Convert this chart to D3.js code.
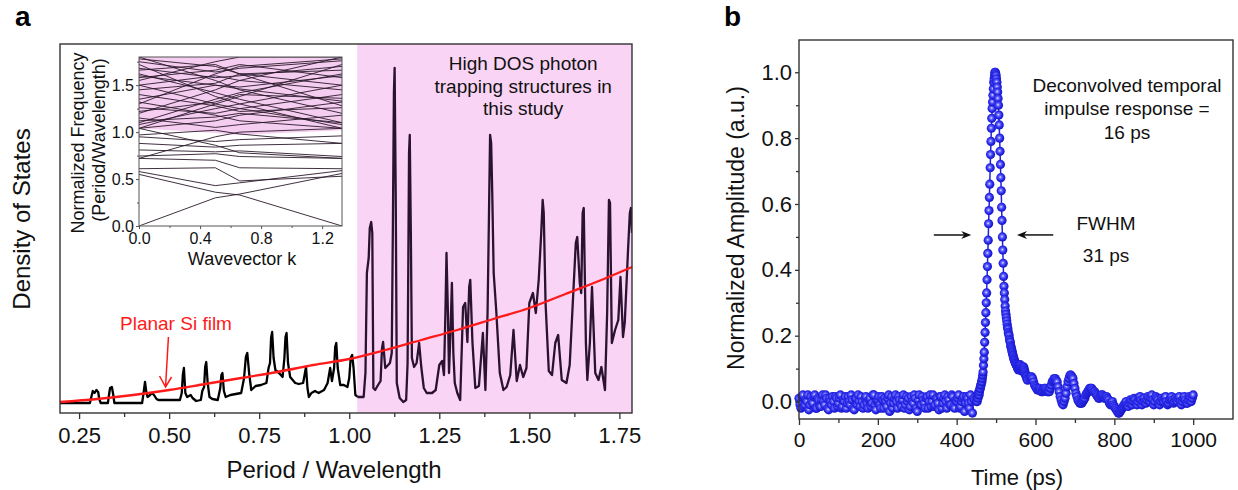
<!DOCTYPE html>
<html><head><meta charset="utf-8">
<script src="https://cdn.jsdelivr.net/npm/d3@7"></script>
<style>body{margin:0;background:#fff} svg text{font-family:"Liberation Sans",Arial,Helvetica,sans-serif}</style>
</head><body><svg id="c" width="1238" height="490"></svg>
<script>
// ---------- Panel a data ----------
const xTicksA = [0.25, 0.50, 0.75, 1.00, 1.25, 1.50, 1.75];
const xMinorA = [0.375, 0.625, 0.875, 1.125, 1.375, 1.625];
const highDosStart = 1.022;
const dosPoints = [
[0.197,1.0],[0.28,1.0],[0.284,1.6],[0.288,2.2],[0.293,2.0],[0.298,2.3],[0.303,2.1],[0.306,1.4],[0.31,1.0],
[0.33,1.0],[0.333,1.8],[0.336,2.5],[0.341,2.6],[0.345,1.8],[0.348,1.0],
[0.425,1.0],[0.429,2.0],[0.433,3.1],[0.437,2.0],[0.44,1.6],[0.447,1.8],[0.452,2.0],[0.458,1.8],[0.465,1.4],[0.47,1.3],[0.53,1.3],
[0.535,2.0],[0.538,3.8],[0.541,4.5],[0.545,2.0],[0.55,1.6],[0.56,1.8],[0.565,1.5],[0.575,1.2],[0.588,1.3],[0.592,2.2],[0.597,2.6],[0.600,4.6],[0.603,5.1],[0.607,3.0],[0.612,1.6],[0.62,1.4],[0.635,1.3],
[0.642,2.5],[0.645,3.8],[0.648,4.0],[0.652,2.2],[0.657,1.6],[0.67,1.8],[0.685,1.9],[0.70,2.0],[0.708,3.5],[0.713,5.6],[0.717,6.0],[0.722,4.0],[0.728,2.3],[0.74,2.7],[0.755,2.8],[0.77,3.0],
[0.776,4.5],[0.78,5.0],[0.783,7.5],[0.786,8.1],[0.79,5.5],[0.795,4.3],[0.805,4.0],[0.815,3.6],[0.82,5.5],[0.823,7.6],[0.826,8.0],[0.83,5.0],[0.836,3.6],[0.85,3.0],[0.86,2.9],[0.872,3.0],[0.877,4.0],[0.88,4.6],[0.884,2.5],[0.888,1.6],[0.895,2.0],[0.905,2.2],[0.915,2.0],[0.93,2.3],[0.94,3.0],[0.947,4.5],[0.952,3.2],[0.958,4.5],[0.961,6.6],[0.964,7.0],[0.968,4.5],[0.975,2.8],[0.985,2.8],[0.995,2.6],[1.0,3.5],[1.004,5.5],[1.008,5.8],[1.012,4.5],[1.017,1.8],[1.025,1.6],[1.04,1.6],
[1.045,4.0],[1.049,14.0],[1.054,15.5],[1.057,18.5],[1.061,19.1],[1.064,18.0],[1.067,2.5],[1.072,2.3],[1.08,2.8],[1.087,3.2],[1.091,6.5],[1.094,7.1],[1.1,4.5],[1.108,4.8],[1.113,5.0],[1.118,6.0],[1.121,18],[1.124,32],[1.126,34.5],[1.129,22],[1.132,3.0],[1.14,1.5],[1.15,1.1],[1.158,1.3],[1.162,5.0],[1.164,15],[1.166,26],[1.168,27.8],[1.171,18],[1.174,5.5],[1.18,4.6],[1.187,5.0],[1.194,7.0],[1.2,4.6],[1.207,2.5],[1.215,2.0],[1.23,2.0],[1.24,2.3],[1.25,4.8],[1.258,5.2],[1.263,3.8],[1.267,10],[1.27,16.0],[1.274,10],[1.277,4.0],[1.281,8],[1.285,13.0],[1.289,6],[1.293,3.0],[1.3,2.0],[1.308,1.3],[1.316,10.6],[1.322,11.0],[1.328,7.1],[1.333,12.6],[1.336,13.3],[1.342,7.1],[1.35,2.5],[1.36,2.7],[1.371,8.0],[1.378,2.3],[1.384,10],[1.388,20],[1.391,27.8],[1.394,27],[1.397,22],[1.401,14.0],[1.408,10.3],[1.418,4.0],[1.428,2.3],[1.437,2.6],[1.447,3.8],[1.456,8.3],[1.465,3.2],[1.474,4.8],[1.483,3.6],[1.492,4.5],[1.5,11.0],[1.51,12.0],[1.518,10.0],[1.526,13.3],[1.533,18],[1.537,21.3],[1.540,20],[1.545,11.0],[1.554,4.2],[1.563,3.8],[1.572,7.0],[1.58,7.8],[1.59,3.3],[1.603,3.0],[1.612,4.8],[1.622,12.0],[1.629,17.0],[1.633,17.6],[1.64,13.0],[1.644,12.0],[1.648,20.0],[1.651,20.5],[1.657,7.0],[1.661,3.3],[1.668,7.0],[1.674,12.6],[1.683,4.0],[1.692,3.3],[1.7,4.6],[1.71,2.3],[1.716,10],[1.721,21.3],[1.724,21.0],[1.729,7.0],[1.738,8.3],[1.747,9.3],[1.753,13.6],[1.76,7.6],[1.765,9.1],[1.774,16.3],[1.779,20.0],[1.782,20.5],[1.785,18]
];
const planarX = [0.197,0.3,0.4,0.5,0.6,0.7,0.8,0.9,1.0,1.1,1.2,1.3,1.4,1.5,1.6,1.7,1.785];
const planarY = [1.1,1.4,1.8,2.3,2.9,3.5,4.1,4.8,5.4,6.3,7.3,8.3,9.4,10.5,11.9,13.3,14.6];

// ---------- Inset (band diagram) data ----------
const insetXTicks = [0.0, 0.4, 0.8, 1.2];
const insetXMinor = [0.2, 0.6, 1.0];
const insetYTicks = [0.0, 0.5, 1.0, 1.5];
const insetYMinor = [0.25, 0.75, 1.25, 1.75];
const bandK = [0, 0.5, 0.66, 1.33];
const bands = [
[0.00,0.30,0.34,0.56],[0.55,0.36,0.33,0.00],[0.58,0.43,0.46,0.59],[0.61,0.62,0.48,0.53],
[0.72,0.70,0.62,0.61],[0.745,0.77,0.74,0.72],[0.81,0.79,0.80,0.74],[0.72,0.95,1.0,1.04],
[1.04,0.86,0.78,0.72],[0.88,0.84,0.86,0.88],[0.95,0.90,0.92,0.96],[0.97,1.02,0.98,0.88],
[1.04,1.30,1.38,1.72],[1.72,1.38,1.30,1.04],[1.04,1.12,1.18,1.32],[1.32,1.18,1.12,1.04],
[1.10,1.35,1.42,1.62],[1.62,1.42,1.35,1.10],[1.20,1.45,1.55,1.80],[1.80,1.55,1.45,1.20],
[1.26,1.20,1.25,1.40],[1.40,1.28,1.22,1.26],[1.50,1.60,1.55,1.45],[1.60,1.50,1.48,1.60],
[1.58,1.66,1.72,1.58],[1.66,1.72,1.62,1.66],[1.75,1.64,1.68,1.76],[1.45,1.52,1.62,1.50],
[1.35,1.50,1.46,1.33],[1.15,1.05,1.08,1.18],[1.30,1.62,1.70,1.78],[1.78,1.70,1.62,1.28],
[1.08,1.25,1.30,1.50],[1.50,1.30,1.25,1.08],[1.55,1.75,1.80,1.80],[1.68,1.58,1.60,1.70],
[1.22,1.32,1.40,1.36],[1.12,1.16,1.20,1.10]
];
const insetPinkK = [0, 0.5, 0.66, 1.33];
const insetPinkLow = [1.04, 0.99, 0.97, 1.02];

// ---------- Panel b data ----------
const xTicksB = [0, 200, 400, 600, 800, 1000];
const xMinorB = [100, 300, 500, 700, 900];
const yTicksB = [0.0, 0.2, 0.4, 0.6, 0.8, 1.0];
const yMinorB = [0.1, 0.3, 0.5, 0.7, 0.9];
const baseStart = 0, baseStep = 5;
const baseAmp = [
0.01,-0.02,0.02,-0.01,0.0,-0.025,0.015,-0.005,0.02,-0.02,
0.005,-0.015,0.02,-0.01,0.01,-0.025,0.0,0.015,-0.02,0.01,
-0.005,0.02,-0.015,0.0,-0.02,0.015,-0.01,0.005,-0.025,0.01,
0.02,-0.015,0.0,-0.01,0.015,-0.02,0.01,-0.005,0.02,-0.025,
0.005,-0.01,0.015,-0.02,0.0,0.01,-0.03,0.015,-0.005,0.02,
-0.02,0.005,-0.015,0.02,-0.01,0.0,-0.025,0.015,-0.005,0.01,
-0.03,0.02,-0.01,0.005,-0.02,0.015,0.0,-0.015,0.02,-0.01,
0.01,-0.025,0.015,-0.005,0.02,-0.02,0.005,-0.01,0.015,-0.02,
0.0,0.02,-0.015,0.01,-0.03,0.015,-0.005,0.02,-0.035,0.005];
const base2Start = 2.5, base2Step = 5;
const base2Amp = [
-0.01,0.015,-0.015,0.005,0.02,-0.01,0.0,0.015,-0.02,0.01,
-0.015,0.005,0.0,0.02,-0.02,0.01,-0.01,0.0,0.015,-0.015,
0.01,-0.02,0.005,0.015,-0.005,0.0,0.02,-0.02,0.01,-0.01,
0.0,0.015,-0.02,0.01,-0.005,0.005,-0.015,0.02,-0.01,0.0,
0.015,-0.02,0.005,0.01,-0.015,0.02,-0.005,-0.02,0.01,0.0,
0.015,-0.01,0.005,-0.02,0.015,0.01,-0.015,0.0,0.02,-0.02,
0.005,-0.01,0.015,-0.005,0.01,-0.02,0.02,0.0,-0.015,0.01,
-0.005,0.015,-0.02,0.01,0.0,0.015,-0.01,0.02,-0.015,0.005,
0.01,-0.02,0.0,0.015,-0.005,0.01,-0.02,0.0,0.01];
const peakStart = 450, peakStep = 1;
const peakAmp = [
0.00,0.01,0.00,0.02,0.01,0.02,0.03,0.02,0.03,0.04,
0.04,0.05,0.05,0.06,0.06,0.07,0.08,0.09,0.11,0.13,
0.15,0.18,0.21,0.24,0.27,0.30,0.33,0.37,0.41,0.45,
0.49,0.54,0.58,0.62,0.66,0.71,0.75,0.79,0.83,0.86,
0.89,0.91,0.93,0.95,0.97,0.98,0.99,1.00,1.00,0.995,
0.99,0.98,0.97,0.955,0.94,0.92,0.90,0.87,0.84,0.80,
0.76,0.72,0.68,0.64,0.59,0.55,0.50,0.46,0.42,0.38,
0.35,0.33,0.31,0.29,0.275,0.265,0.255,0.245,0.235,0.225,
0.22,0.21,0.205,0.2,0.19,0.185,0.18,0.17,0.165,0.16,
0.155,0.15,0.145,0.14,0.135,0.13,0.127,0.124,0.12,0.117,
0.115,0.112,0.11,0.107,0.105,0.1,0.098,0.096,0.1,0.105,
0.11,0.112,0.11,0.105,0.1,0.095,0.092,0.095,0.1,0.104,
0.105,0.1,0.095,0.09,0.085,0.08,0.078,0.075,0.07,0.068,0.065];
const tailStart = 585, tailStep = 5;
const tailAmp = [
0.07,0.075,0.06,0.045,0.035,0.04,0.03,0.035,0.04,0.03,
0.03,0.05,0.065,0.07,0.06,0.03,0.005,-0.01,0.01,0.045,
0.07,0.08,0.07,0.04,0.015,0.0,-0.005,0.0,0.01,0.025,
0.035,0.04,0.035,0.03,0.02,0.01,0.015,0.02,0.01,0.015,
0.005,-0.01,0.0,-0.015,-0.025,-0.035,-0.03,-0.02,-0.01,0.0,
-0.015,0.005,-0.01,0.01,-0.005,0.0,0.015,-0.01,0.01,-0.005,
0.015,0.0,0.02,-0.01,0.015,0.005,-0.01,0.01,0.0,0.015,
-0.01,0.005,0.015,-0.005,0.01,0.0,0.015,-0.01,0.01,0.005,
-0.005,0.015,0.0,0.02];
const tail2Start = 587.5, tail2Step = 5;
const tail2Amp = [
0.075,0.07,0.05,0.04,0.035,0.035,0.03,0.04,0.035,0.03,
0.04,0.06,0.07,0.065,0.045,0.015,-0.005,0.0,0.025,0.06,
0.08,0.075,0.055,0.025,0.005,-0.005,-0.005,0.005,0.02,0.03,
0.04,0.04,0.03,0.025,0.015,0.01,0.02,0.015,0.01,0.01,
-0.005,-0.005,-0.01,-0.02,-0.03,-0.035,-0.025,-0.015,-0.005,-0.01,
-0.005,0.0,0.0,0.005,-0.01,0.01,0.005,0.0,0.0,0.005,
0.01,0.01,0.005,0.0,0.01,-0.005,0.0,0.005,0.01,0.0,
-0.005,0.01,0.005,0.0,0.005,0.01,0.0,0.0,0.015,-0.005,
0.005,0.01,0.01];

// ---------- Drawing ----------
const svg = d3.select("#c");
const FONT = '"Liberation Sans",Arial,sans-serif';
const defs = svg.append("defs");

// ===== Panel a =====
const A = {l:60, r:632, t:44, b:413};
const xA = d3.scaleLinear().domain([0.197, 1.785]).range([A.l, A.r]);
const yA = d3.scaleLinear().domain([0, 36.9]).range([A.b, A.t]);

svg.append("rect").attr("x", xA(highDosStart)).attr("y", A.t)
  .attr("width", A.r - xA(highDosStart)).attr("height", A.b - A.t).attr("fill", "#f9d4f5");

defs.append("clipPath").attr("id","clipAL").append("rect")
  .attr("x", A.l).attr("y", A.t).attr("width", xA(highDosStart)-A.l).attr("height", A.b-A.t);
defs.append("clipPath").attr("id","clipAR").append("rect")
  .attr("x", xA(highDosStart)).attr("y", A.t).attr("width", A.r-xA(highDosStart)).attr("height", A.b-A.t);

const dosLine = d3.line().x(d => xA(d[0])).y(d => yA(d[1]));
svg.append("path").attr("d", dosLine(dosPoints)).attr("clip-path","url(#clipAL)")
  .attr("fill","none").attr("stroke","#000").attr("stroke-width",2.3).attr("stroke-linejoin","round");
svg.append("path").attr("d", dosLine(dosPoints)).attr("clip-path","url(#clipAR)")
  .attr("fill","none").attr("stroke","#2a1230").attr("stroke-width",2.3).attr("stroke-linejoin","round");

const planarLine = d3.line().x((d,i) => xA(planarX[i])).y((d,i) => yA(planarY[i])).curve(d3.curveMonotoneX);
svg.append("path").attr("d", planarLine(planarX)).attr("fill","none")
  .attr("stroke","#ff1a1a").attr("stroke-width",2.3);

// frame
svg.append("rect").attr("x",A.l).attr("y",A.t).attr("width",A.r-A.l).attr("height",A.b-A.t)
  .attr("fill","none").attr("stroke","#333").attr("stroke-width",1.4);

// x axis a
const axA = svg.append("g").attr("transform",`translate(0,${A.b})`)
  .call(d3.axisBottom(xA).tickValues(xTicksA).tickFormat(d3.format(".2f")).tickSize(6).tickPadding(8));
axA.select(".domain").remove();
axA.selectAll("text").attr("font-size",22).attr("font-family",FONT).attr("fill","#111");
axA.selectAll("line").attr("stroke","#333").attr("stroke-width",1.3);
const axAm = svg.append("g").attr("transform",`translate(0,${A.b})`)
  .call(d3.axisBottom(xA).tickValues(xMinorA).tickFormat("").tickSize(4));
axAm.select(".domain").remove();
axAm.selectAll("line").attr("stroke","#333").attr("stroke-width",1.3);

svg.append("text").attr("x",334).attr("y",478).attr("text-anchor","middle")
  .attr("font-size",24).attr("fill","#111").text("Period / Wavelength");
svg.append("text").attr("transform","translate(30,219) rotate(-90)").attr("text-anchor","middle")
  .attr("font-size",24).attr("fill","#111").text("Density of States");
svg.append("text").attr("x",15).attr("y",26).attr("font-size",28).attr("font-weight","bold").text("a");

// annotations a
const ann = svg.append("g").attr("font-size",19).attr("text-anchor","middle").attr("fill","#111");
[["High DOS photon",70],["trapping structures in",93],["this study",115]].forEach(([s,y]) =>
  ann.append("text").attr("x",xA(1.483)).attr("y",y).text(s));
svg.append("text").attr("x",xA(0.519)).attr("y",yA(9.0)+7).attr("text-anchor","middle")
  .attr("font-size",19).attr("fill","#ff1a1a").text("Planar Si film");
const tipX = xA(0.49), tipY = yA(2.6), tailX = xA(0.498), tailY = yA(7.6);
svg.append("path").attr("d",`M${tailX},${tailY}L${tipX},${tipY}M${tipX-6},${tipY-11}L${tipX},${tipY}L${tipX+6},${tipY-10}`)
  .attr("fill","none").attr("stroke","#ff1a1a").attr("stroke-width",1.5);

// ===== Inset =====
const I = {l:139, r:342, t:57, b:226};
const xI = d3.scaleLinear().domain([0, 1.33]).range([I.l, I.r]);
const yI = d3.scaleLinear().domain([0, 1.8]).range([I.b, I.t]);
svg.append("rect").attr("x",I.l).attr("y",I.t).attr("width",I.r-I.l).attr("height",I.b-I.t).attr("fill","#fff");
defs.append("clipPath").attr("id","clipI").append("rect")
  .attr("x",I.l).attr("y",I.t).attr("width",I.r-I.l).attr("height",I.b-I.t);
const pinkArea = d3.area().x((d,i)=>xI(insetPinkK[i])).y0((d,i)=>yI(insetPinkLow[i])).y1(yI(1.8));
svg.append("path").attr("d",pinkArea(insetPinkK)).attr("fill","#f5cdf0");
const bandLine = d3.line().x((d,i)=>xI(bandK[i])).y(d=>yI(d));
svg.append("g").attr("clip-path","url(#clipI)").selectAll("path").data(bands).join("path")
  .attr("d", d => bandLine(d)).attr("fill","none").attr("stroke","#2a1a2a").attr("stroke-width",0.9);
svg.append("rect").attr("x",I.l).attr("y",I.t).attr("width",I.r-I.l).attr("height",I.b-I.t)
  .attr("fill","none").attr("stroke","#555").attr("stroke-width",1);
const axIx = svg.append("g").attr("transform",`translate(0,${I.b})`)
  .call(d3.axisBottom(xI).tickValues(insetXTicks).tickFormat(d3.format(".1f")).tickSize(3).tickPadding(4));
const axIxm = svg.append("g").attr("transform",`translate(0,${I.b})`)
  .call(d3.axisBottom(xI).tickValues(insetXMinor).tickFormat("").tickSize(2));
const axIy = svg.append("g").attr("transform",`translate(${I.l},0)`)
  .call(d3.axisLeft(yI).tickValues(insetYTicks).tickFormat(d3.format(".1f")).tickSize(3).tickPadding(2));
const axIym = svg.append("g").attr("transform",`translate(${I.l},0)`)
  .call(d3.axisLeft(yI).tickValues(insetYMinor).tickFormat("").tickSize(2));
[axIx,axIxm,axIy,axIym].forEach(g=>{g.select(".domain").remove();
  g.selectAll("line").attr("stroke","#555");
  g.selectAll("text").attr("font-size",16).attr("font-family",FONT).attr("fill","#111");});
svg.append("text").attr("x",242).attr("y",265).attr("text-anchor","middle").attr("font-size",18)
  .attr("fill","#111").text("Wavevector k");
svg.append("text").attr("transform","translate(84,143) rotate(-90)").attr("text-anchor","middle")
  .attr("font-size",18).attr("fill","#111").text("Normalized Frequency");
svg.append("text").attr("transform","translate(105,140) rotate(-90)").attr("text-anchor","middle")
  .attr("font-size",18).attr("fill","#111").text("(Period/Wavelength)");

// ===== Panel b =====
const B = {l:799, r:1233, t:40, b:419};
const xB = d3.scaleLinear().domain([0, 1101]).range([B.l, B.r]);
const yB = d3.scaleLinear().domain([-0.053, 1.098]).range([B.b, B.t]);
const pulse = [];
baseAmp.forEach((v,i)=>pulse.push([baseStart+i*baseStep, v]));
base2Amp.forEach((v,i)=>pulse.push([base2Start+i*base2Step, v]));
peakAmp.forEach((v,i)=>pulse.push([peakStart+i*peakStep, v]));
tailAmp.forEach((v,i)=>pulse.push([tailStart+i*tailStep, v]));
tail2Amp.forEach((v,i)=>pulse.push([tail2Start+i*tail2Step, v]));
pulse.sort((a,b)=>a[0]-b[0]);

const grad = defs.append("radialGradient").attr("id","ball").attr("cx","45%").attr("cy","45%").attr("r","55%");
grad.append("stop").attr("offset","0%").attr("stop-color","#e8e8ff");
grad.append("stop").attr("offset","28%").attr("stop-color","#6a6aff");
grad.append("stop").attr("offset","65%").attr("stop-color","#2828ea");
grad.append("stop").attr("offset","100%").attr("stop-color","#1515c0");

svg.append("path").attr("d", d3.line().x(d=>xB(d[0])).y(d=>yB(d[1]))(pulse))
  .attr("fill","none").attr("stroke","#2020e0").attr("stroke-width",1.5);
svg.append("g").selectAll("circle").data(pulse).join("circle")
  .attr("cx",d=>xB(d[0])).attr("cy",d=>yB(d[1])).attr("r",4.6).attr("fill","url(#ball)");

svg.append("rect").attr("x",B.l).attr("y",B.t).attr("width",B.r-B.l).attr("height",B.b-B.t)
  .attr("fill","none").attr("stroke","#333").attr("stroke-width",1.4);
const axBx = svg.append("g").attr("transform",`translate(0,${B.b})`)
  .call(d3.axisBottom(xB).tickValues(xTicksB).tickFormat(d3.format("d")).tickSize(6).tickPadding(7));
const axBxm = svg.append("g").attr("transform",`translate(0,${B.b})`)
  .call(d3.axisBottom(xB).tickValues(xMinorB).tickFormat("").tickSize(4));
const axBy = svg.append("g").attr("transform",`translate(${B.l},0)`)
  .call(d3.axisLeft(yB).tickValues(yTicksB).tickFormat(d3.format(".1f")).tickSize(4).tickPadding(3));
const axBym = svg.append("g").attr("transform",`translate(${B.l},0)`)
  .call(d3.axisLeft(yB).tickValues(yMinorB).tickFormat("").tickSize(3));
[axBx,axBxm,axBy,axBym].forEach(g=>{g.select(".domain").remove();
  g.selectAll("line").attr("stroke","#333").attr("stroke-width",1.3);
  g.selectAll("text").attr("font-family",FONT).attr("fill","#111");});
axBx.selectAll("text").attr("font-size",21);
axBy.selectAll("text").attr("font-size",22);

svg.append("text").attr("x",1017).attr("y",485).attr("text-anchor","middle").attr("font-size",22)
  .attr("fill","#111").text("Time (ps)");
svg.append("text").attr("transform","translate(744,228) rotate(-90)").attr("text-anchor","middle")
  .attr("font-size",23).attr("fill","#111").text("Normalized Amplitude (a.u.)");
svg.append("text").attr("x",724).attr("y",26).attr("font-size",28).attr("font-weight","bold").text("b");

const annB = svg.append("g").attr("font-size",19).attr("text-anchor","middle").attr("fill","#111");
[["Deconvolved temporal",92],["impulse response =",115],["16 ps",139]].forEach(([s,y]) =>
  annB.append("text").attr("x",xB(832)).attr("y",y).text(s));
annB.append("text").attr("x",xB(779)).attr("y",yB(0.542)+7).text("FWHM");
annB.append("text").attr("x",xB(779)).attr("y",yB(0.445)+7).text("31 ps");
function arrow(x1,x2,y){
  const dir = Math.sign(x2-x1);
  svg.append("line").attr("x1",x1).attr("x2",x2-dir*6).attr("y1",y).attr("y2",y).attr("stroke","#111").attr("stroke-width",1.5);
  svg.append("path").attr("d",`M${x2},${y}L${x2-dir*10},${y-4}L${x2-dir*7},${y}L${x2-dir*10},${y+4}Z`).attr("fill","#111");
}
arrow(xB(342), xB(437), yB(0.506));
arrow(xB(645), xB(553), yB(0.506));
</script></body></html>
